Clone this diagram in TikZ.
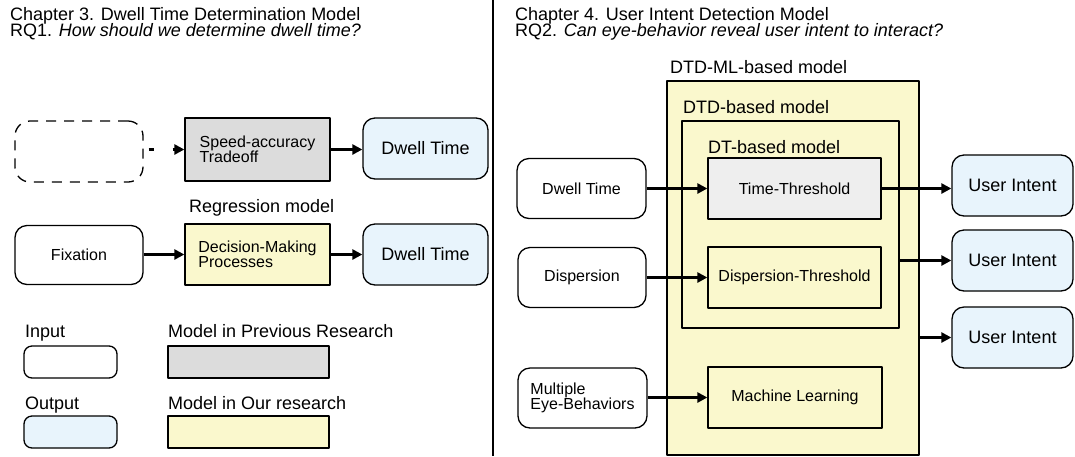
\documentclass[tikz,border=0pt]{standalone}
\usepackage{fontspec}
\setmainfont{Liberation Sans}
\usetikzlibrary{arrows.meta,positioning}
\newcommand{\figbig}{\fontsize{18}{16}\selectfont}
\newcommand{\figsmall}{\fontsize{16}{15}\selectfont}
\definecolor{figgray}{RGB}{220,220,220}
\definecolor{figlight}{RGB}{238,238,238}
\definecolor{figyellow}{RGB}{250,248,205}
\definecolor{figblue}{RGB}{232,244,252}
\tikzset{
  every picture/.style={line join=round},
  inbox/.style={rectangle,rounded corners=12pt,draw=black,line width=1.3pt,
    fill=white,font=\figsmall,align=left,inner sep=0pt},
  outbox/.style={rectangle,rounded corners=12pt,draw=black,line width=1.3pt,
    fill=figblue,font=\figbig,inner sep=0pt},
  ghostbox/.style={rectangle,rounded corners=15pt,draw=black,line width=1.3pt,
    dash pattern=on 10pt off 8pt},
  prevmodel/.style={rectangle,draw=black,line width=1.3pt,fill=figgray,
    font=\figsmall,align=left,inner sep=0pt},
  ourmodel/.style={rectangle,draw=black,line width=1.3pt,fill=figyellow,
    font=\figsmall,align=left,inner sep=0pt},
  thresh/.style={rectangle,draw=black,line width=1.3pt,fill=figlight,
    font=\figsmall,inner sep=0pt},
  frame/.style={rectangle,draw=black,line width=1.5pt,fill=figyellow,inner sep=0pt},
  lab/.style={font=\figbig,anchor=base west,inner sep=0pt},
  flow/.style={-{Triangle[length=10pt,width=10pt]},line width=2.4pt},
  dashflow/.style={flow,dash pattern=on 0pt off 5pt on 5pt off 19pt on 20pt}
}
\begin{document}
\begin{tikzpicture}[x=1pt,y=-1pt]
  \path[use as bounding box,fill=white] (0,0) rectangle (1075,456);

  % Chapter 3: dwell time determination.
  \node[lab] (ch3) at (10,20) {Chapter 3. Dwell Time Determination Model};
  \node[lab] (rq1) at (10,36) {RQ1. \textit{How should we determine dwell time?}};
  \node[ghostbox,minimum width=128pt,minimum height=61pt] (ghost) at (79,151.5) {};
  \node[prevmodel,minimum width=145pt,minimum height=63pt] (sat) at (257.5,149.5)
    {Speed-accuracy\\Tradeoff};
  \node[outbox,minimum width=125pt,minimum height=61pt] (dt1) at (425.5,148.5) {Dwell Time};
  \draw[dashflow] (ghost.east |- sat.west) -- (sat.west);
  \draw[flow] (sat.east) -- (sat.east -| dt1.west);

  \node[lab] (reglab) at (189,212) {Regression model};
  \node[inbox,minimum width=128pt,minimum height=59pt] (fix) at (79,255) {Fixation};
  \node[ourmodel,minimum width=145pt,minimum height=61pt] (dmp) at (257.5,254.5)
    {Decision-Making\\Processes};
  \node[outbox,minimum width=125pt,minimum height=61pt] (dt2) at (425.5,254.5) {Dwell Time};
  \draw[flow] (fix.east |- dmp.west) -- (dmp.west);
  \draw[flow] (dmp.east) -- (dmp.east -| dt2.west);

  % Legend.
  \node[lab] (inlab) at (25,337) {Input};
  \node[inbox,rounded corners=8pt,minimum width=93pt,minimum height=32pt] (legin) at (70.5,362) {};
  \node[lab] (prevlab) at (168,337) {Model in Previous Research};
  \node[prevmodel,minimum width=161pt,minimum height=32pt] (legprev) at (248.5,362) {};
  \node[lab] (outlab) at (25,409) {Output};
  \node[outbox,rounded corners=8pt,minimum width=93pt,minimum height=32pt] (legout) at (70.5,432) {};
  \node[lab] (ourlab) at (168,409) {Model in Our research};
  \node[ourmodel,minimum width=161pt,minimum height=32pt] (legour) at (248.5,432) {};

  \draw[line width=1.5pt] (493,0) -- (493,456);

  % Chapter 4: user intent detection.
  \node[lab] (ch4) at (515,20) {Chapter 4. User Intent Detection Model};
  \node[lab] (rq2) at (515,36) {RQ2. \textit{Can eye-behavior reveal user intent to interact?}};
  \node[frame,minimum width=252pt,minimum height=374pt] (mlframe) at (793,268) {};
  \node[lab] (mllab) at (670,73) {DTD-ML-based model};
  \node[frame,minimum width=217pt,minimum height=207pt] (dtdframe) at (790.5,224.5) {};
  \node[lab] (dtdlab) at (683,113) {DTD-based model};
  \node[lab] (dtlab) at (708,153) {DT-based model};
  \node[thresh,minimum width=173pt,minimum height=61pt] (tt) at (794.5,188.5) {Time-Threshold};
  \node[ourmodel,minimum width=173pt,minimum height=61pt] (dst) at (794.5,277.5)
    {Dispersion-Threshold};
  \node[ourmodel,minimum width=174pt,minimum height=61pt] (ml) at (795,397.5)
    {Machine Learning};

  \node[inbox,minimum width=129pt,minimum height=60pt] (dwin) at (581.5,188.5) {Dwell Time};
  \node[inbox,minimum width=128pt,minimum height=60pt] (disp) at (582,277.5) {Dispersion};
  \node[inbox,minimum width=129pt,minimum height=60pt] (multi) at (582.5,398)
    {Multiple\\Eye-Behaviors};
  \node[outbox,minimum width=121pt,minimum height=61pt] (ui1) at (1012.5,185.5) {User Intent};
  \node[outbox,minimum width=121pt,minimum height=61pt] (ui2) at (1012.5,260.5) {User Intent};
  \node[outbox,minimum width=121pt,minimum height=61pt] (ui3) at (1012.5,337.5) {User Intent};

  \draw[flow] (dwin.east |- tt.west) -- (tt.west);
  \draw[flow] (disp.east |- dst.west) -- (dst.west);
  \draw[flow] (multi.east |- ml.west) -- (ml.west);
  \draw[flow] (tt.east) -- (tt.east -| ui1.west);
  \draw[flow] (dtdframe.east |- ui2.west) -- (ui2.west);
  \draw[flow] (mlframe.east |- ui3.west) -- (ui3.west);
\end{tikzpicture}
\end{document}
